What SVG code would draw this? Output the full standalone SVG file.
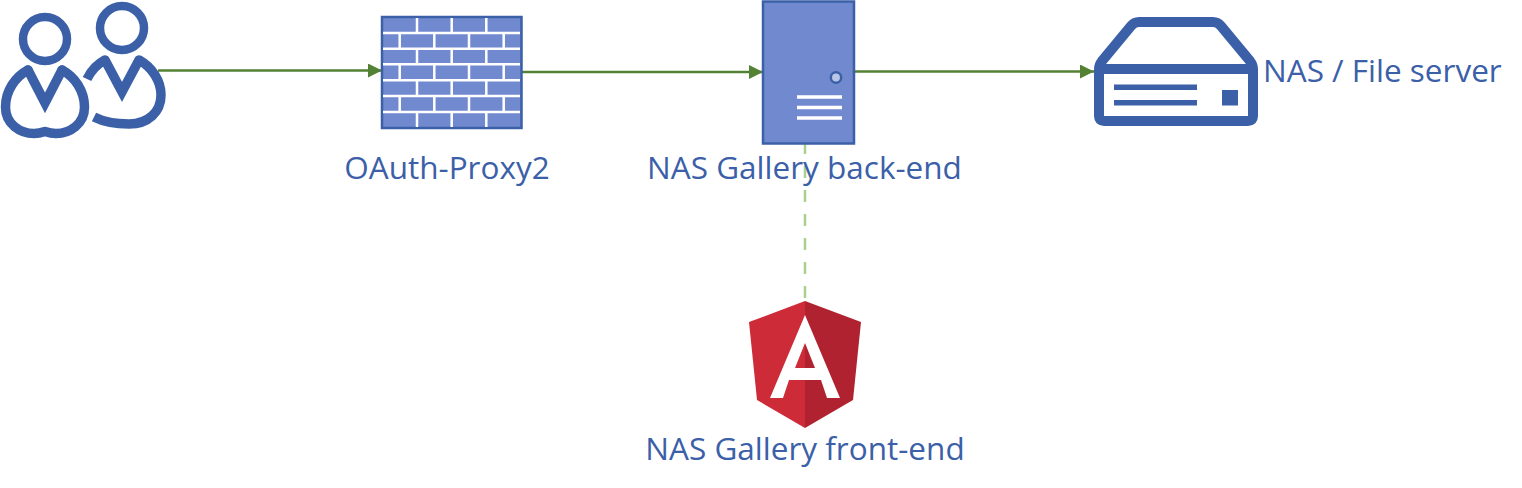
<svg xmlns="http://www.w3.org/2000/svg" width="1522" height="488" viewBox="0 0 1522 488">
<style>
.ic{fill:none;stroke:#3b60a8;stroke-linejoin:round}
.v{fill:none;stroke:#3b60a8;stroke-width:9.500;stroke-linejoin:miter;stroke-miterlimit:6;stroke-linecap:round}
.fl{fill:#7089cf;stroke:#3b60a8;stroke-width:2.5}
.wl{stroke:#fff;stroke-width:2.5;fill:none}
.w3{stroke:#fff;stroke-width:3.5;fill:none}
.lb{font-family:"Open Sans","Noto Sans",sans-serif;font-size:31.5px;fill:#3b60a8}
.c{fill:none;stroke:#548235;stroke-width:2.5}
.d{fill:none;stroke:#a9d18e;stroke-width:2.5;stroke-dasharray:12 12}
</style>
<defs>
<marker id="a" markerUnits="userSpaceOnUse" markerWidth="14" markerHeight="14" refX="14" refY="7" orient="auto"><path d="M0 0L14 7L0 14Z" fill="#548235"/></marker>
</defs>
<rect width="1522" height="488" fill="#fff"/>
<g id="connectors">
<path class="c" d="M158 70.500H382" marker-end="url(#a)"/>
<path class="c" d="M522 72H763" marker-end="url(#a)"/>
<path class="c" d="M854 71.500H1094" marker-end="url(#a)"/>
<path class="d" d="M805 142V301"/>
</g>
<g id="users">
<circle class="ic" cx="45" cy="39" r="22" stroke-width="8.500"/>
<path class="ic" stroke-width="9.500" stroke-linecap="round" d="M28 70C15 77 5.500 91 5.500 107C5.500 124 20 133.500 34 133.500C39 133.500 42 132.500 45 131.500C48 132.500 51 133.500 56 133.500C70 133.500 84.500 124 84.500 107C84.500 91 75 77 62 70"/>
<path class="v" d="M28 70L45 103L62 70"/>
<circle class="ic" cx="122" cy="28" r="22" stroke-width="8.500"/>
<path class="ic" stroke-width="9.500" d="M87 79C91 71 97 64 105 60"/>
<path class="ic" stroke-width="9.500" d="M139 60C152 67 161 81 161 95C161 112 148 124 129 124C115 124 104 122 94 117"/>
<path class="v" d="M105 60L122 92L139 60"/>
</g>
<g id="oauth-proxy">
<rect class="fl" x="382" y="17" width="139.500" height="111"/>
<path class="wl" d="M383 33H520M383 48.700H520M383 64.300H520M383 80.300H520M383 96H520M383 112H520"/>
<path class="wl" d="M417 18V33M451.700 18V33M486.300 18V33M399.700 33V48.700M434.300 33V48.700M469 33V48.700M503.700 33V48.700M417 48.700V64.300M451.700 48.700V64.300M486.300 48.700V64.300M399.700 64.300V80.300M434.300 64.300V80.300M469 64.300V80.300M503.700 64.300V80.300M417 80.300V96M451.700 80.300V96M486.300 80.300V96M399.700 96V112M434.300 96V112M469 96V112M503.700 96V112M417 112V127M451.700 112V127M486.300 112V127"/>
<text class="lb" x="447" y="179" text-anchor="middle">OAuth-Proxy2</text>
</g>
<g id="backend">
<rect class="fl" x="763" y="1.500" width="91" height="142"/>
<circle cx="836" cy="77.500" r="5.200" fill="#b9c6e6" stroke="#3b60a8" stroke-width="2.500"/>
<path class="w3" d="M797 97H842M797 107.500H842M797 118H842"/>
<text class="lb" x="804.500" y="179" text-anchor="middle">NAS Gallery back-end</text>
</g>
<g id="nas">
<path class="ic" stroke-width="10" d="M1099 69V116Q1099 121 1104 121H1248Q1253 121 1253 116V69Q1253 65 1250 61L1221 26Q1218 22 1213 22H1139Q1134 22 1131 26L1102 61Q1099 65 1099 69H1253"/>
<rect x="1114" y="84.500" width="83" height="5.500" fill="#3b60a8"/>
<rect x="1114" y="100" width="83" height="5.500" fill="#3b60a8"/>
<rect x="1222" y="90" width="16" height="15.500" fill="#3b60a8"/>
<text class="lb" x="1263" y="82">NAS / File server</text>
</g>
<g id="frontend">
<path fill="#cd2b37" d="M805 301L749 322L757 400L805 428Z"/>
<path fill="#b12231" d="M805 301L861 322L853 400L805 428Z"/>
<path fill="#fff" fill-rule="evenodd" d="M805 315L770 398H783L789 380H821L827 398H840ZM805 343L795 368H815Z"/>
<text class="lb" x="805" y="460" text-anchor="middle">NAS Gallery front-end</text>
</g>
</svg>
